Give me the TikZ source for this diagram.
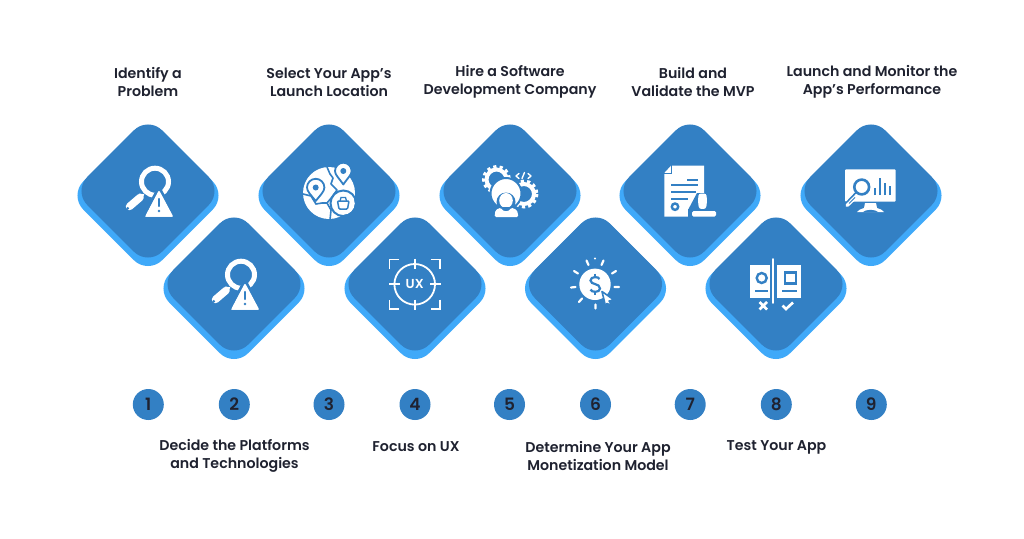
\documentclass[tikz,border=0pt]{standalone}
\usepackage{fontspec}
\setmainfont{Poppins}[BoldFont={Poppins SemiBold}]
\usetikzlibrary{calc,shapes.geometric,backgrounds}
\definecolor{dk}{HTML}{3380C4}
\definecolor{lt}{HTML}{3FA9F9}
\definecolor{strip}{HTML}{CDE4F9}
\definecolor{pale}{HTML}{D8EBFD}
\definecolor{ink}{HTML}{1F2230}
\tikzset{
  darkdia/.style={diamond,aspect=1,draw=none,fill=dk,minimum width=149.6pt,minimum height=149.6pt,inner sep=0pt,outer sep=0pt,rounded corners=20pt},
  lightdia/.style={diamond,aspect=1,draw=none,fill=lt,minimum width=157.6pt,minimum height=157.6pt,inner sep=0pt,outer sep=0pt,rounded corners=20pt},
  numdot/.style={circle,fill=dk,text=ink,minimum size=31pt,inner sep=0pt,outer sep=0pt,font=\bfseries\fontsize{17}{17}\selectfont},
  title/.style={align=center,text=ink,inner sep=0pt,font=\bfseries\fontsize{14.2}{18}\selectfont},
  narrow/.style={strip,line width=15pt},
  wide/.style={strip,line width=20pt},
  rail/.style={draw=dk,double=white,line width=3pt,double distance=4pt},
  ico/.style={white,fill=white,draw=none},
  wl/.style={draw=white,line cap=round},
  kl/.style={draw=dk,line cap=round},
  pics/magicon/.style={code={
    \draw[white,line width=5pt] (7,-9.3) circle (13.5);
    \draw[white,line width=7.5pt,line cap=round] (-18.5,15.5) -- (-8,6.5);
    \fill[white] (-9,2.5) -- (-3.7,3.3) -- (-6,9) -- (-11,9) -- cycle;
    \fill[dk] (-20.3,17.3) circle (1.5);
    \filldraw[fill=white,draw=dk,line width=3pt,rounded corners=2pt] (11,-3.5) -- (27.5,27.3) -- (-5.5,27.3) -- cycle;
    \fill[white,rounded corners=1.5pt] (11,-1) -- (25.3,25.7) -- (-3,25.7) -- cycle;
    \draw[dk,line width=2.4pt,line cap=round] (11,8) -- (11,15);
    \fill[dk] (11,20) circle (1.4);
  }},
}
\newcommand{\flare}[2]{%
  \fill[pale] ($(#1)+(8,-9)$) .. controls ($(#1)!0.3!(#2)+(0,-1)$) and ($(#1)!0.38!(#2)+(0,-1)$) .. ($(#1)!0.5!(#2)+(0,-1)$)
   .. controls ($(#1)!0.68!(#2)+(0,-1)$) and ($(#2)+(-28,-10)$) .. ($(#2)+(-14,-11)$)
   -- ($(#2)+(-14,11)$)
   .. controls ($(#2)+(-28,10)$) and ($(#1)!0.68!(#2)+(0,1)$) .. ($(#1)!0.5!(#2)+(0,1)$)
   .. controls ($(#1)!0.38!(#2)+(0,1)$) and ($(#1)!0.3!(#2)+(0,1)$) .. ($(#1)+(8,9)$) -- cycle;}
\begin{document}
\begin{tikzpicture}[x=1pt,y=-1pt]
\useasboundingbox[fill=white] (0,0) rectangle (1024,538);
% light under-diamonds, dark diamonds
\node[lightdia] (l1) at (148,195.5) {};
\node[lightdia] (l2) at (234,288.5) {};
\node[lightdia] (l3) at (329,195.5) {};
\node[lightdia] (l4) at (415,288.5) {};
\node[lightdia] (l5) at (510,195.5) {};
\node[lightdia] (l6) at (595.5,288.5) {};
\node[lightdia] (l7) at (690,195.5) {};
\node[lightdia] (l8) at (776,288.5) {};
\node[lightdia] (l9) at (871,195.5) {};
\node[darkdia] (d1) at (148,191) {};
\node[darkdia] (d2) at (234,284) {};
\node[darkdia] (d3) at (329,191) {};
\node[darkdia] (d4) at (415,284) {};
\node[darkdia] (d5) at (510,191) {};
\node[darkdia] (d6) at (595.5,284) {};
\node[darkdia] (d7) at (690,191) {};
\node[darkdia] (d8) at (776,284) {};
\node[darkdia] (d9) at (871,191) {};
% number dots
\node[numdot] (c1) at (148.3,404.5) {1};
\node[numdot] (c2) at (234.3,404.5) {2};
\node[numdot] (c3) at (329,404.5) {3};
\node[numdot] (c4) at (415,404.5) {4};
\node[numdot] (c5) at (509.5,404.5) {5};
\node[numdot] (c6) at (595.5,404.5) {6};
\node[numdot] (c7) at (690.2,404.5) {7};
\node[numdot] (c8) at (776.3,404.5) {8};
\node[numdot] (c9) at (871.3,404.5) {9};
\begin{pgfonlayer}{background}
\draw[narrow] (d1.center) -- (d2.center);
\draw[wide] (d2.center) -- (d3.center);
\draw[narrow] (d3.center) -- (d4.center);
\draw[wide] (d4.center) -- (d5.center);
\draw[narrow] (d5.center) -- (d6.center);
\draw[wide] (d6.center) -- (d7.center);
\draw[narrow] (d7.center) -- (d8.center);
\draw[wide] (d8.center) -- (d9.center);
\draw[rail] (d1.center) -- (c1.center);
\draw[rail] (d2.center) -- (c2.center);
\draw[rail] (d3.center) -- (c3.center);
\draw[rail] (d4.center) -- (c4.center);
\draw[rail] (d5.center) -- (c5.center);
\draw[rail] (d6.center) -- (c6.center);
\draw[rail] (d7.center) -- (c7.center);
\draw[rail] (d8.center) -- (c8.center);
\draw[rail] (d9.center) -- (c9.center);
\flare{c1}{c2}\flare{c2}{c3}\flare{c3}{c4}\flare{c4}{c5}
\flare{c5}{c6}\flare{c6}{c7}\flare{c7}{c8}\flare{c8}{c9}
\end{pgfonlayer}
% titles
\node[title] (t1) at (148,82) {Identify a\\Problem};
\node[title] (t3) at (329,82) {Select Your App's\\Launch Location};
\node[title] (t5) at (510,82) {Hire a Software\\Development Company};
\node[title] (t7) at (693,82) {Build and\\Validate the MVP};
\node[title] (t9) at (872,82) {Launch and Monitor the\\App's Performance};
\node[title] (t2) at (234.5,456) {Decide the Platforms\\and Technologies};
\node[title] (t4) at (416,447) {Focus on UX};
\node[title] (t6) at (598,456) {Determine Your App\\Monetization Model};
\node[title] (t8) at (776.5,447) {Test Your App};
% icons 1,2
\pic at (d1.center) {magicon};
\pic at (d2.center) {magicon};
% icon 3 globe
\fill[white] (329,193) circle (26);
\draw[dk,line width=1.6pt,line join=round] (327,167) -- (330,174) -- (333,178) -- (331,184) -- (337,190) -- (332,197) -- (327,203) -- (331,210) -- (330,220);
\draw[dk,line width=1.6pt] (303,194) -- (311,196) -- (316,204) -- (322,203) -- (327,203);
\filldraw[fill=white,draw=dk,line width=1.8pt,line join=round] (315.7,201) .. controls (311,195) and (307,191.5) .. (307,187.5) arc (180:0:8.7 and -8.7) .. controls (324.4,191.5) and (320.4,195) .. cycle;
\fill[dk] (315.7,187.5) circle (3);
\filldraw[fill=white,draw=dk,line width=1.8pt,line join=round] (343.3,184.5) .. controls (339,178) and (335,175) .. (335,171) arc (180:0:8.3 and -8.3) .. controls (351.6,175) and (347.6,178) .. cycle;
\fill[dk] (343.3,171) circle (3);
\fill[white] (343.3,203.3) circle (11.5);
\draw[dk,line width=2pt] (343.3,203.3) circle (12.8);
\draw[dk,line width=1.5pt,rounded corners=1pt] (337.5,201) -- (349,201) -- (347.5,209) -- (339,209) -- cycle;
\draw[dk,line width=1.3pt] (340,201) -- (341,197.5) -- (345.5,197.5) -- (346.5,201);
% icon 4 UX
\draw[white,line width=1.8pt] (414.7,284.3) circle (20.3);
\draw[white,line width=2.2pt]
 (414.7,258.5) -- (414.7,269) (414.7,299.5) -- (414.7,310)
 (389,284.3) -- (399.5,284.3) (430,284.3) -- (440.5,284.3);
\draw[white,line width=1.8pt]
 (389.5,269) -- (389.5,259.5) -- (399,259.5) (430.5,259.5) -- (440,259.5) -- (440,269)
 (440,299.5) -- (440,309) -- (430.5,309) (399,309) -- (389.5,309) -- (389.5,299.5);
\node[text=white,inner sep=0pt,font=\bfseries\fontsize{13}{13}\selectfont] (ux) at (414.7,284.5) {UX};
% icon 5 gears + person
\draw[white,line width=4pt] (496.5,179.5) circle (10);
\draw[white,line width=3pt,dash pattern=on 3.2pt off 3.2pt] (496.5,179.5) circle (13);
\draw[white,line width=4pt] (524,194) circle (10);
\draw[white,line width=3pt,dash pattern=on 3.2pt off 3.2pt] (524,194) circle (13);
\filldraw[fill=white,draw=dk,line width=2pt] (506,193.5) circle (15.5);
\filldraw[fill=dk,draw=none] (506,202) circle (9.5);
\fill[white] (506,200.5) ellipse (6.8 and 7.5);
\fill[dk] (493,218) -- (494,207) -- (518,207) -- (520,218) -- cycle;
\fill[white,rounded corners=1.5pt] (494.5,217) -- (495.5,210) -- (501,207.5) .. controls (503,212) and (509,212) .. (511,207.5) -- (517,210) -- (518.5,217) -- cycle;
\draw[white,line width=1.4pt,line cap=round,line join=round]
 (519,173.5) -- (516,176) -- (519,178.5)
 (522,178.5) -- (524.5,172.5)
 (528,173.5) -- (531,176) -- (528,178.5);
% icon 6 money
\fill[white] (595,284.3) circle (15.7);
\draw[white,line width=2.2pt,line cap=round]
 (595,258.5) -- (595,258.5)
 (586.5,260.5) -- (588.5,265) (603.5,260.5) -- (601.5,265)
 (574,271) -- (578,273.5) (616,271) -- (612,273.5)
 (571,287.5) -- (575.5,287) (619,287) -- (614.5,287)
 (579,302) -- (582,298.5)
 (595.5,304.5) -- (595.5,308.5);
\draw[dk,line width=2.2pt,line cap=butt] (599.5,279) .. controls (599,276.5) and (590.5,276) .. (590.5,280.5) .. controls (590.5,285) and (600,283) .. (600,288.5) .. controls (600,293) and (591,292.5) .. (590.5,289.5);
\draw[dk,line width=1.8pt] (595.3,273.5) -- (595.3,276.5) (595.3,292) -- (595.3,295);
\filldraw[fill=white,draw=dk,line width=1.6pt,line join=round] (602,291.5) -- (614,300) -- (609,301) -- (613.5,307) -- (610.5,305) -- (607,303.5) -- (605.5,306) -- cycle;
% icon 7 document
\fill[white] (671,165.7) -- (704,165.7) -- (704,209) -- (690,209) -- (690,216.7) -- (664.3,216.7) -- (664.3,173) -- cycle;
\draw[dk,line width=1.8pt] (671.5,165) -- (671.5,173.5) -- (664,173.5);
\draw[dk,line width=2pt]
 (687,179.5) -- (698,179.5) (671,184.5) -- (698,184.5) (671,191.5) -- (696,191.5) (671,198.5) -- (688,198.5);
\draw[dk,line width=2.4pt] (675,206.7) circle (3.2);
\fill[dk] (697,193) -- (708,193) -- (710,210) -- (688,210) -- cycle;
\fill[white,rounded corners=2.5pt] (698.5,193.5) -- (706.5,193.5) -- (707,202) -- (706,209) -- (699,209) -- (698,202) -- cycle;
\fill[dk] (688,209) rectangle (718,218);
\fill[white,rounded corners=1.5pt] (692,211) rectangle (716,216.7);
% icon 8 panels
\fill[white] (750,265) rectangle (770,297.7);
\fill[white] (777.3,265) rectangle (801,297.7);
\draw[white,line width=1.8pt,line cap=round] (772.9,259) -- (772.9,303);
\draw[dk,line width=2.4pt] (761.7,278) circle (5);
\draw[dk,line width=1.8pt] (755,290.7) -- (767.7,290.7) (782,290.7) -- (796.7,290.7);
\draw[dk,line width=2.2pt] (785,272.5) rectangle (796,283.5);
\draw[white,line width=2.6pt] (759.5,302) -- (767,309.5) (767,302) -- (759.5,309.5);
\draw[white,line width=2.6pt] (782.5,305.5) -- (786,309) -- (793,302.5);
% icon 9 monitor
\fill[white,rounded corners=1pt] (845,169.3) rectangle (895.7,201.7);
\filldraw[fill=white,draw=dk,line width=2.6pt] (861.7,187) circle (7.4);
\draw[dk,line width=1.6pt,line cap=round] (856,192.5) -- (846,203);
\draw[white,line width=3.4pt,line cap=round] (847,205.5) -- (855,198);
\draw[dk,line width=1pt] (855,197.5) -- (849,203.5);
\draw[dk,line width=2pt] (875,195) -- (875,188) (880,195) -- (880,178) (885,195) -- (885,183) (890,195) -- (890,186);
\fill[white] (865,203) -- (876,203) -- (877,208) .. controls (880,209) and (883,210) .. (884,212) -- (857,212) .. controls (858,210) and (861,209) .. (864,208) -- cycle;
\fill[dk] (862.5,212.3) .. controls (866,209) and (875,209) .. (878.5,212.3) -- cycle;
\end{tikzpicture}
\end{document}
